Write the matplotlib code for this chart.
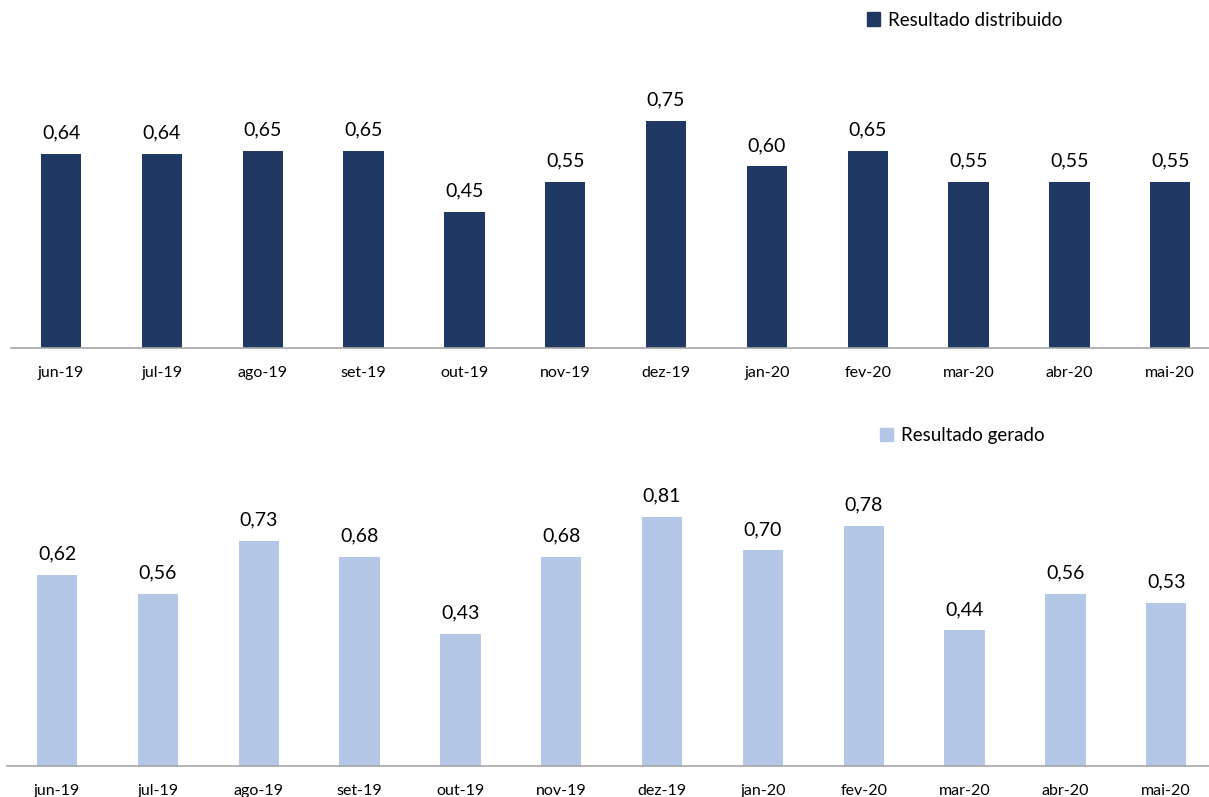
import numpy as np
import matplotlib.pyplot as plt
from matplotlib.patches import Patch

plt.rcParams['font.family'] = ['Lato', 'DejaVu Sans']

meses = ['jun-19', 'jul-19', 'ago-19', 'set-19', 'out-19', 'nov-19',
         'dez-19', 'jan-20', 'fev-20', 'mar-20', 'abr-20', 'mai-20']
distribuido = [0.64, 0.64, 0.65, 0.65, 0.45, 0.55, 0.75, 0.60, 0.65, 0.55, 0.55, 0.55]
gerado = [0.62, 0.56, 0.73, 0.68, 0.43, 0.68, 0.81, 0.70, 0.78, 0.44, 0.56, 0.53]

cor_dist = '#203864'
cor_ger = '#B4C7E7'

W, H = 1209, 797
fig = plt.figure(figsize=(W/100, H/100), dpi=100)

def painel(left_px, base_px, px_per_unit, vals, cor, nome, leg_x, leg_y):
    top_px = base_px - px_per_unit*1.0
    ax = fig.add_axes([left_px/W, 1 - base_px/H, 1210/W, (base_px - top_px)/H])
    x = np.arange(len(vals))
    bars = ax.bar(x, vals, width=0.4, color=cor)
    for b, v in zip(bars, vals):
        ax.annotate('{:.2f}'.format(v).replace('.', ','),
                    (b.get_x() + b.get_width()/2, v),
                    xytext=(0, 9), textcoords='offset points',
                    ha='center', va='bottom', fontsize=14, color='#000000')
    ax.set_xlim(-0.5, len(vals) - 0.5)
    ax.set_ylim(0, 1.0)
    ax.set_xticks(x)
    ax.set_xticklabels(meses, fontsize=11.5)
    ax.tick_params(axis='x', length=0, pad=13)
    ax.set_yticks([])
    for s in ['top', 'right', 'left']:
        ax.spines[s].set_visible(False)
    ax.spines['bottom'].set_color('#A6A6A6')
    ax.spines['bottom'].set_linewidth(1.2)
    fig.legend(handles=[Patch(color=cor, label=nome)], loc='center left',
               bbox_to_anchor=(leg_x/W, 1 - leg_y/H), frameon=False,
               fontsize=13.5, handlelength=0.7, handleheight=0.7,
               handletextpad=0.4, borderpad=0, borderaxespad=0)
    return ax

painel(10.6, 348, 302.7, distribuido, cor_dist, 'Resultado distribuido', 867, 20)
painel(6.6, 766, 308, gerado, cor_ger, 'Resultado gerado', 880, 436)

fig.savefig('out.png', dpi=100)
